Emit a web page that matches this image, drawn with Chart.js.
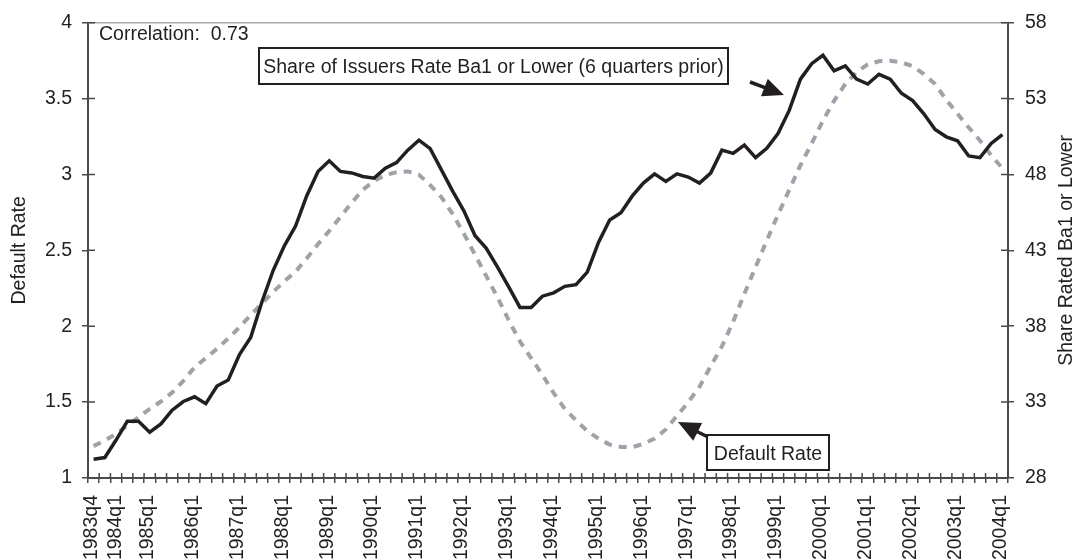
<!DOCTYPE html>
<html><head><meta charset="utf-8">
<script src="https://cdn.jsdelivr.net/npm/chart.js@4.4.1/dist/chart.umd.min.js"></script>
<style>html,body{margin:0;padding:0;background:#fff;}#wrap{position:relative;width:1078px;height:559px;}</style>
</head><body><div id="wrap"><canvas id="c" width="1078" height="559" style="width:1078px;height:559px"></canvas></div>
<script>
const quarters = ['1983q4',
 '1984q1','1984q2','1984q3','1984q4','1985q1','1985q2','1985q3','1985q4',
 '1986q1','1986q2','1986q3','1986q4','1987q1','1987q2','1987q3','1987q4',
 '1988q1','1988q2','1988q3','1988q4','1989q1','1989q2','1989q3','1989q4',
 '1990q1','1990q2','1990q3','1990q4','1991q1','1991q2','1991q3','1991q4',
 '1992q1','1992q2','1992q3','1992q4','1993q1','1993q2','1993q3','1993q4',
 '1994q1','1994q2','1994q3','1994q4','1995q1','1995q2','1995q3','1995q4',
 '1996q1','1996q2','1996q3','1996q4','1997q1','1997q2','1997q3','1997q4',
 '1998q1','1998q2','1998q3','1998q4','1999q1','1999q2','1999q3','1999q4',
 '2000q1','2000q2','2000q3','2000q4','2001q1','2001q2','2001q3','2001q4',
 '2002q1','2002q2','2002q3','2002q4','2003q1','2003q2','2003q3','2003q4',
 '2004q1'];

const defaultRate = [1.21,1.248,1.29,1.346,1.40,1.455,1.504,1.563,1.64,1.73,1.79,1.852,1.92,1.993,2.074,2.15,
 2.226,2.296,2.36,2.448,2.541,2.628,2.72,2.813,2.90,2.957,2.996,3.015,3.02,2.998,2.93,2.85,
 2.74,2.61,2.47,2.33,2.19,2.04,1.90,1.79,1.68,1.56,1.455,1.38,1.31,1.26,1.22,1.205,
 1.203,1.225,1.26,1.32,1.41,1.50,1.60,1.737,1.867,2.03,2.213,2.389,2.565,2.735,2.898,3.061,
 3.204,3.354,3.485,3.596,3.674,3.726,3.746,3.749,3.739,3.713,3.661,3.596,3.491,3.40,3.309,3.224,
 3.126,3.041];

const shareBa1 = [29.24,29.35,30.5,31.74,31.74,31.02,31.56,32.47,33.04,33.35,32.9,34.06,34.46,36.13,37.26,39.6,
 41.67,43.3,44.6,46.6,48.2,48.9,48.2,48.1,47.87,47.76,48.41,48.78,49.6,50.26,49.7,48.3,
 46.9,45.6,43.96,43.13,41.89,40.59,39.24,39.24,39.98,40.2,40.63,40.74,41.57,43.52,45.0,45.48,
 46.57,47.43,48.04,47.54,48.04,47.83,47.43,48.09,49.6,49.39,49.93,49.11,49.72,50.7,52.22,54.28,
 55.3,55.85,54.83,55.15,54.28,53.96,54.6,54.28,53.35,52.87,52.0,50.96,50.48,50.22,49.22,49.11,
 50.04,50.63];

const leftTicks = [1, 1.5, 2, 2.5, 3, 3.5, 4];
const rightTicks = [28, 33, 38, 43, 48, 53, 58];

const FONT = "'Liberation Sans', Arial, sans-serif";
const FS = 19.5;
const TXT = '#231f20';
const AXIS = '#4a4a4a';

const annot = {
  id: 'annot',
  afterDraw(chart) {
    const {ctx, chartArea: a, scales} = chart;
    const xs = scales.x, ys = scales.y, ys2 = scales.y2;
    ctx.save();
    // top frame line
    ctx.strokeStyle = '#a8aeb4'; ctx.lineWidth = 1.5;
    ctx.beginPath(); ctx.moveTo(a.left, a.top); ctx.lineTo(a.right, a.top); ctx.stroke();
    // inner tick stubs
    ctx.strokeStyle = AXIS; ctx.lineWidth = 1.5;
    ctx.beginPath();
    for (let i = 0; i <= quarters.length; i++) {
      const bx = xs.getPixelForValue(i - 0.5);
      ctx.moveTo(bx, a.bottom); ctx.lineTo(bx, a.bottom - 5);
    }
    leftTicks.forEach(v => { const y = ys.getPixelForValue(v); ctx.moveTo(a.left, y); ctx.lineTo(a.left + 7, y); });
    rightTicks.forEach(v => { const y = ys2.getPixelForValue(v); ctx.moveTo(a.right, y); ctx.lineTo(a.right - 7, y); });
    ctx.stroke();

    ctx.fillStyle = TXT;
    ctx.font = FS + "px " + FONT;
    ctx.textBaseline = 'alphabetic';
    ctx.textAlign = 'left';
    ctx.fillText('Correlation:  0.73', 99, 40);

    // right axis title (reads bottom to top)
    ctx.save();
    ctx.translate(1067, (a.top + a.bottom) / 2);
    ctx.rotate(-Math.PI / 2);
    ctx.textAlign = 'center'; ctx.textBaseline = 'middle';
    ctx.fillText('Share Rated Ba1 or Lower', 0, 0);
    ctx.restore();

    function box(x1, y1, x2, y2, text) {
      ctx.fillStyle = '#fff';
      ctx.fillRect(x1, y1, x2 - x1, y2 - y1);
      ctx.strokeStyle = TXT; ctx.lineWidth = 2;
      ctx.strokeRect(x1, y1, x2 - x1, y2 - y1);
      ctx.fillStyle = TXT;
      ctx.textAlign = 'center'; ctx.textBaseline = 'alphabetic';
      ctx.fillText(text, (x1 + x2) / 2, (y1 + y2) / 2 + 7);
    }
    function arrow(x1, y1, x2, y2, len, wid) {
      const ang = Math.atan2(y2 - y1, x2 - x1);
      const bx = x2 - len * Math.cos(ang), by = y2 - len * Math.sin(ang);
      ctx.strokeStyle = TXT; ctx.lineWidth = 3.5;
      ctx.beginPath(); ctx.moveTo(x1, y1); ctx.lineTo(bx + 2 * Math.cos(ang), by + 2 * Math.sin(ang)); ctx.stroke();
      ctx.fillStyle = TXT;
      ctx.beginPath();
      ctx.moveTo(x2, y2);
      ctx.lineTo(bx + wid / 2 * Math.sin(ang), by - wid / 2 * Math.cos(ang));
      ctx.lineTo(bx - wid / 2 * Math.sin(ang), by + wid / 2 * Math.cos(ang));
      ctx.closePath(); ctx.fill();
    }
    box(259, 48, 728, 84, 'Share of Issuers Rate Ba1 or Lower (6 quarters prior)');
    arrow(750, 82, 784, 95, 21, 19);
    box(707, 435, 829, 470, 'Default Rate');
    arrow(708, 437, 678, 422, 22, 20);
    ctx.restore();
  }
};

new Chart(document.getElementById('c'), {
  type: 'line',
  data: {
    labels: quarters,
    datasets: [
      { label: 'Share of Issuers Rated Ba1 or Lower (6 quarters prior)', data: shareBa1, yAxisID: 'y2',
        borderColor: '#231f20', borderWidth: 3.5, pointRadius: 0, tension: 0, fill: false,
        borderJoinStyle: 'miter', order: 0 },
      { label: 'Default Rate', data: defaultRate, yAxisID: 'y',
        borderColor: '#9ea3a9', borderWidth: 4, borderDash: [8, 7], borderCapStyle: 'butt',
        pointRadius: 0, tension: 0, fill: false, order: 1 }
    ]
  },
  options: {
    responsive: false, maintainAspectRatio: false, animation: false, devicePixelRatio: 1,
    layout: { padding: { top: 18, left: 0, right: 0, bottom: 0 } },
    plugins: { legend: { display: false }, tooltip: { enabled: false }, title: { display: false } },
    scales: {
      x: {
        type: 'category', offset: true,
        grid: { offset: true, drawOnChartArea: false, drawTicks: true, tickLength: 5, color: AXIS, lineWidth: 1.5 },
        border: { display: true, color: AXIS, width: 2 },
        ticks: {
          autoSkip: false, maxRotation: 90, minRotation: 90, padding: 12, labelOffset: -2,
          color: TXT,
          font: (c) => ({ family: FONT, size: FS, lineHeight: c.index === 1 ? '13px' : 1.2 }),
          callback: function (v, i) {
            const l = quarters[i];
            if (i === 1) return ['', l];
            return (i === 0 || l.endsWith('q1')) ? l : '';
          }
        },
        afterFit: (s) => { s.height = 81; }
      },
      y: {
        type: 'linear', position: 'left', min: 1, max: 4,
        afterBuildTicks: (s) => { s.ticks = leftTicks.map(v => ({ value: v })); },
        grid: { drawOnChartArea: false, drawTicks: true, tickLength: 6, color: AXIS, lineWidth: 1.5 },
        border: { display: true, color: AXIS, width: 2 },
        ticks: { color: TXT, font: { family: FONT, size: FS }, padding: 10, callback: (v) => String(v) },
        title: { display: true, text: 'Default Rate', color: TXT, font: { family: FONT, size: FS }, padding: { top: 8, bottom: 0 } },
        afterFit: (s) => { s.width = 88; }
      },
      y2: {
        type: 'linear', position: 'right', min: 28, max: 58,
        afterBuildTicks: (s) => { s.ticks = rightTicks.map(v => ({ value: v })); },
        grid: { drawOnChartArea: false, drawTicks: true, tickLength: 6, color: AXIS, lineWidth: 1.5 },
        border: { display: true, color: AXIS, width: 2 },
        ticks: { color: TXT, font: { family: FONT, size: FS }, padding: 11, callback: (v) => String(v) },
        afterFit: (s) => { s.width = 70; }
      }
    }
  },
  plugins: [annot]
});
</script></body></html>
